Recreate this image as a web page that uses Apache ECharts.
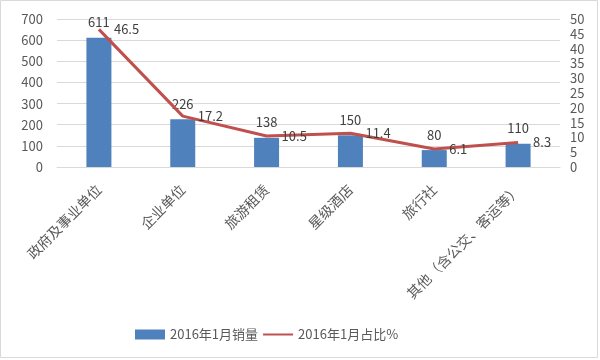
<!DOCTYPE html>
<html><head><meta charset="utf-8">
<script src="https://cdn.jsdelivr.net/npm/echarts@6/dist/echarts.min.js"></script>
<style>html,body{margin:0;padding:0;background:#fff}#c{width:600px;height:360px}</style>
</head><body><div id="c"></div>
<script>
const categories = ['政府及事业单位','企业单位','旅游租赁','星级酒店','旅行社','其他（含公交、客运等）'];
const sales = [611, 226, 138, 150, 80, 110];
const share = [46.5, 17.2, 10.5, 11.4, 6.1, 8.3];
const seriesNames = ['2016年1月销量', '2016年1月占比%'];

const font = '"Noto Sans CJK SC", "Microsoft YaHei", sans-serif';
const chart = echarts.init(document.getElementById('c'));
chart.setOption({
  animation: false,
  textStyle: {fontFamily: font},
  graphic: [{type:'rect', shape:{x:0.5,y:0.5,width:597,height:357}, style:{fill:'none', stroke:'#d9d9d9', lineWidth:1}}],
  grid: {left: 57, right: 40, top: 19, bottom: 193},
  legend: {
    left: 130, top: 323, itemWidth: 30, itemHeight: 10, itemGap: 4,
    textStyle: {color:'#595959', fontSize: 13, fontFamily: font},
    data: [{name: seriesNames[0], icon: 'rect'}, {name: seriesNames[1], itemStyle: {opacity: 0}}]
  },
  xAxis: {
    type: 'category', data: categories,
    axisLine: {lineStyle: {color:'#d9d9d9'}}, axisTick: {show:false},
    axisLabel: {rotate: 45, color:'#595959', fontSize: 14, margin: 20, interval: 0}
  },
  yAxis: [
    {type:'value', min:0, max:700, interval:100,
     axisLabel:{color:'#595959', fontSize:13, margin:14},
     splitLine:{lineStyle:{color:'#d9d9d9'}}, axisLine:{show:false}, axisTick:{show:false}},
    {type:'value', min:0, max:50, interval:5,
     axisLabel:{color:'#595959', fontSize:13, margin:10},
     splitLine:{show:false}, axisLine:{show:false}, axisTick:{show:false}}
  ],
  series: [
    {name: seriesNames[0], type:'bar', data: sales, barWidth: 25, yAxisIndex: 0,
     itemStyle:{color:'#4f81bd'},
     label:{show:true, position:'top', color:'#404040', fontSize:13, distance: 9}},
    {name: seriesNames[1], type:'line', data: share, yAxisIndex: 1,
     showSymbol:true, symbol:'circle', symbolSize: 0.01,
     lineStyle:{color:'#c0504d', width:3}, itemStyle:{color:'#c0504d'},
     label:{show:true, position:'right', color:'#404040', fontSize:13, distance: 15}}
  ]
});
</script></body></html>
